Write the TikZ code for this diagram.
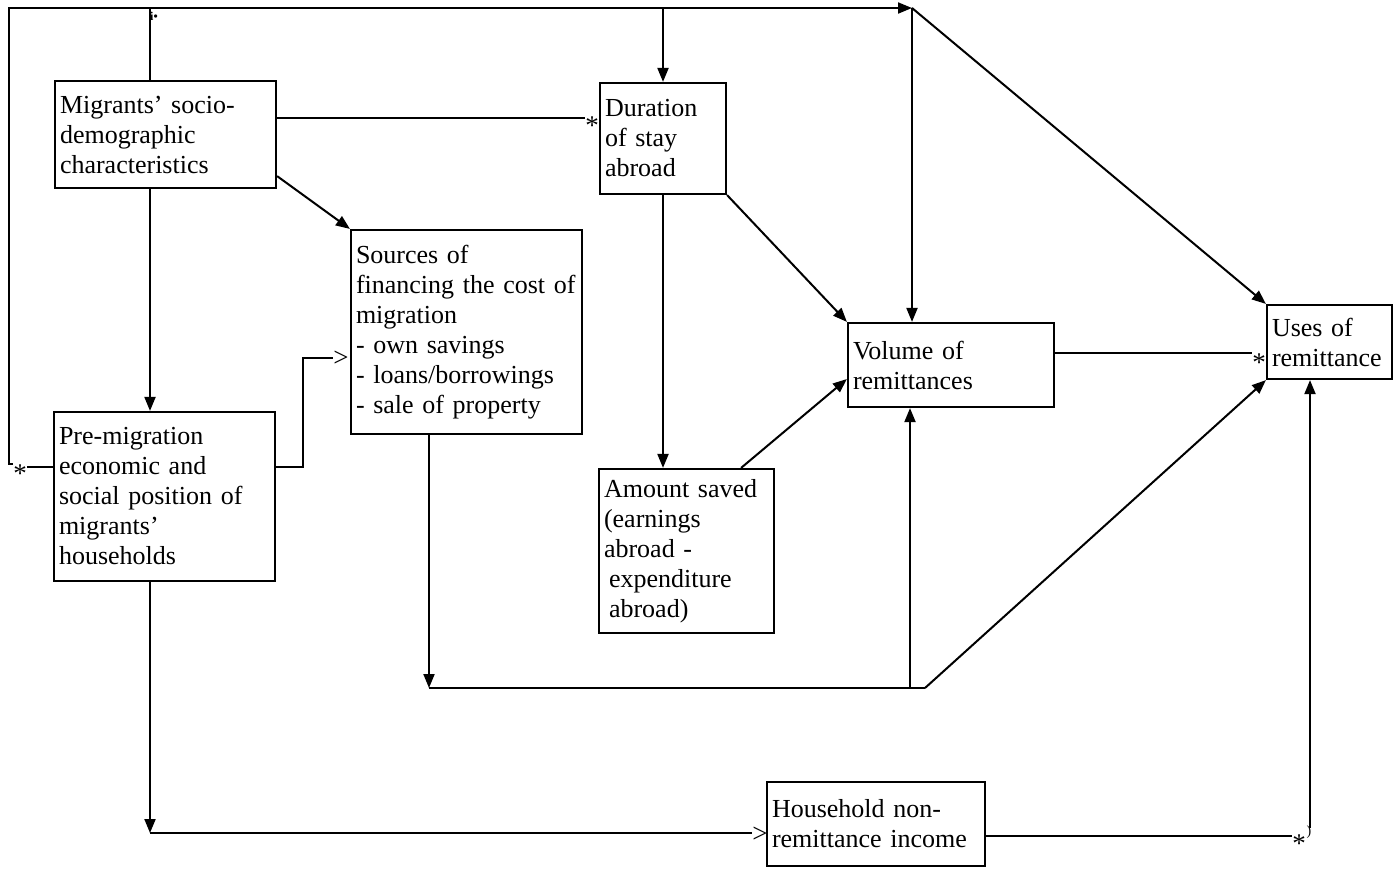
\documentclass[tikz,border=0pt]{standalone}
\usepackage{fontspec}
\setmainfont{Liberation Serif}
\usetikzlibrary{arrows.meta}
\begin{document}
\begin{tikzpicture}[x=1pt,y=-1pt,
  box/.style={draw,line width=2.2pt,inner xsep=5pt,inner ysep=0pt,align=left,font=\fontsize{26}{30}\selectfont},
  conn/.style={line width=2pt},
  arr/.style={conn,-{Triangle[length=14pt,width=11pt]}},
  sym/.style={inner sep=0pt,font=\fontsize{27}{30}\selectfont}]
\useasboundingbox (0,0) rectangle (1394,868);
% boxes
\node[box,text width=211pt,minimum height=107pt] (mig) at (165.5,134.5) {Migrants’ socio-\\demographic\\characteristics};
\node[box,text width=211pt,minimum height=169pt] (pre) at (164.5,496.5) {Pre-migration\\economic and\\social position of\\migrants’\\households};
\node[box,text width=221pt,minimum height=204pt] (src) at (466.5,332) {Sources of\\\mbox{financing the cost of}\\migration\\- own savings\\- loans/borrowings\\- sale of property};
\node[box,text width=116pt,minimum height=111pt] (dur) at (663,138.5) {Duration\\of stay\\abroad};
\node[box,text width=196pt,minimum height=84pt] (vol) at (951,365) {Volume of\\remittances};
\node[box,text width=165pt,minimum height=164pt] (amt) at (686.5,551) {Amount saved\\(earnings\\abroad -\\\hspace*{5pt}expenditure\\\hspace*{5pt}abroad)};
\node[box,text width=115pt,minimum height=74pt] (uses) at (1329.5,342) {Uses of\\remittance};
\node[box,text width=208pt,minimum height=84pt] (hh) at (876,824) {Household non-\\remittance income};
% coordinates
\coordinate (tl) at (9,8);
\coordinate (top) at (912,8);
\coordinate (x150) at (150,0);
\coordinate (k1) at (303,358);
\coordinate (k2) at (150,833);
\coordinate (k3) at (429,688);
\coordinate (k4) at (910,688);
\coordinate (k5) at (925,688);
\coordinate (k6) at (1310,828);
% symbols
\node[sym,anchor=base] (s1) at (20,482) {*};
\node[sym,anchor=base] (s2) at (592,134) {*};
\node[sym,anchor=base] (s3) at (1259,371) {*};
\node[sym,anchor=base] (s4) at (1299,852) {*};
\node[sym,anchor=base] (g1) at (341,366) {>};
\node[sym,anchor=base] (g2) at (760,842) {>};
\node[sym,font=\fontsize{14}{14}\selectfont] (p1) at (1309,832) {)};
\node[inner sep=0pt,font=\bfseries\fontsize{12}{12}\selectfont] (ii) at (154,16) {i\textbullet};
% connectors
\draw[conn] ([yshift=29.5pt]pre.west) -- (s1.east |- 0,467);
\draw[arr] (s1.north west) -| (tl) -- (top);
\draw[conn] (mig.north -| x150) -- (x150 |- tl);
\draw[arr] (dur.north |- tl) -- (dur.north);
\draw[arr] (top) -- (top |- vol.north);
\draw[arr] (top) -- (uses.north west);
\draw[conn] ([yshift=16.5pt]mig.east) -- (s2.west |- 0,118);
\draw[arr] ([yshift=13pt]mig.south east) -- (src.north west);
\draw[arr] (mig.south -| x150) -- (pre.north -| x150);
\draw[conn] ([yshift=29.5pt]pre.east) -| (k1) -- (g1.west |- k1);
\draw[arr] (pre.south -| x150) -- (k2);
\draw[conn] (k2) -- (g2.west |- k2);
\draw[arr] (src.south -| k3) -- (k3);
\draw[conn] (k3) -- (k5);
\draw[arr] (k4) -- (k4 |- vol.south);
\draw[arr] (k5) -- (uses.south west);
\draw[arr] (dur.south) -- (dur.south |- amt.north);
\draw[arr] (dur.south east) -- (vol.north west);
\draw[arr] ([xshift=-34pt]amt.north east) -- ([yshift=-14pt]vol.west);
\draw[conn] ([yshift=12pt]vol.east) -- (s3.west |- 0,353);
\draw[conn] (hh.east |- 0,836) -- (s4.west |- 0,836);
\draw[arr] (k6) -- (k6 |- uses.south);
\end{tikzpicture}
\end{document}
